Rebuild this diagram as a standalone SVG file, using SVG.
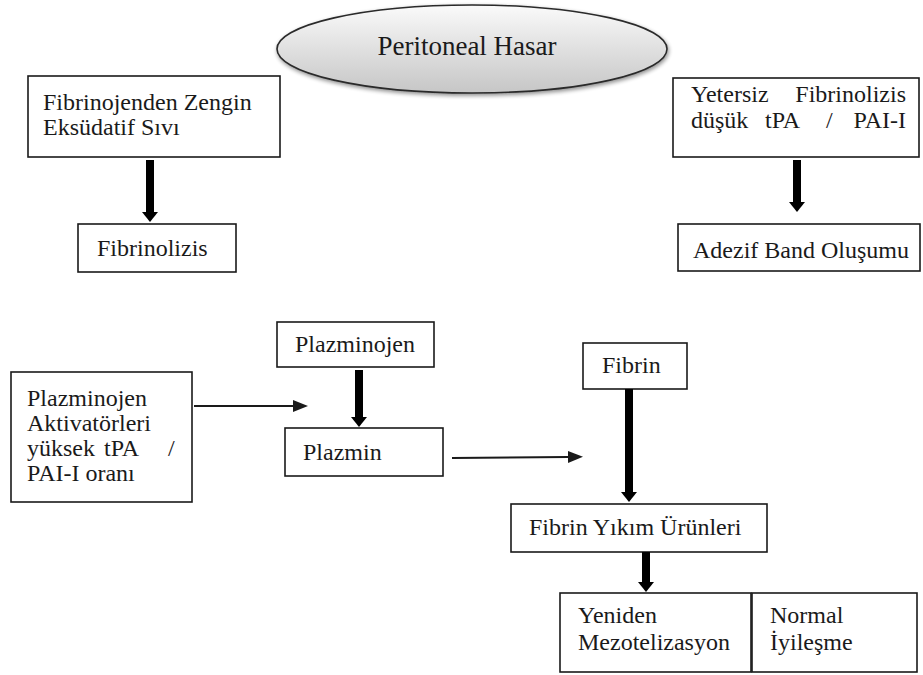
<svg xmlns="http://www.w3.org/2000/svg" width="923" height="675" viewBox="0 0 923 675">
<style>
  .box { fill: #ffffff; stroke: #1a1a1a; stroke-width: 1.6; }
  .t { font-family: "Liberation Serif", "Times New Roman", "DejaVu Serif", serif; font-size: 24px; fill: #1a1a1a; }
  .title { font-family: "Liberation Serif", "Times New Roman", "DejaVu Serif", serif; font-size: 27px; fill: #1a1a1a; }
  .thick { stroke: #000; stroke-width: 8; fill: none; }
  .thin { stroke: #1a1a1a; stroke-width: 1.8; fill: none; }
</style>
<defs>
  <linearGradient id="ellGrad" x1="0" y1="0" x2="0" y2="1">
    <stop offset="0" stop-color="#fafafa"/>
    <stop offset="1" stop-color="#c6c6c6"/>
  </linearGradient>
  <filter id="shadow" x="-10%" y="-20%" width="120%" height="150%">
    <feGaussianBlur in="SourceAlpha" stdDeviation="2"/>
    <feOffset dx="1" dy="2" result="b"/>
    <feComponentTransfer><feFuncA type="linear" slope="0.45"/></feComponentTransfer>
    <feMerge><feMergeNode/><feMergeNode in="SourceGraphic"/></feMerge>
  </filter>
  <marker id="headThick" markerUnits="userSpaceOnUse" viewBox="0 0 10 16" markerWidth="10" markerHeight="16" refX="0" refY="8" orient="auto">
    <path d="M0,0 L10,8 L0,16 z" fill="#000"/>
  </marker>
  <marker id="headThin" markerUnits="userSpaceOnUse" viewBox="0 0 15 12" markerWidth="15" markerHeight="12" refX="0" refY="6" orient="auto">
    <path d="M0,0 L15,6 L0,12 z" fill="#1a1a1a"/>
  </marker>
</defs>
<rect width="923" height="675" fill="#ffffff"/>

<g id="peritoneal-hasar">
  <ellipse cx="472" cy="49" rx="195" ry="44" fill="url(#ellGrad)" stroke="#2a2a2a" stroke-width="1.6" filter="url(#shadow)"/>
  <text class="title" x="467" y="55" text-anchor="middle">Peritoneal Hasar</text>
</g>

<g id="fibrinojenden">
  <rect class="box" x="28" y="76" width="252" height="81"/>
  <text class="t" x="43" y="110">Fibrinojenden Zengin</text>
  <text class="t" x="43" y="135">Eksüdatif Sıvı</text>
</g>

<g id="fibrinolizis">
  <rect class="box" x="78" y="224" width="158" height="48"/>
  <text class="t" x="97" y="256">Fibrinolizis</text>
</g>

<g id="yetersiz">
  <rect class="box" x="673" y="78" width="246" height="79"/>
  <text class="t" y="102"><tspan x="691">Yetersiz</tspan><tspan x="906" text-anchor="end">Fibrinolizis</tspan></text>
  <text class="t" y="128"><tspan x="691">düşük</tspan><tspan x="765">tPA</tspan><tspan x="826">/</tspan><tspan x="906" text-anchor="end">PAI-I</tspan></text>
</g>

<g id="adezif">
  <rect class="box" x="678" y="224" width="242" height="47"/>
  <text class="t" x="693" y="258">Adezif Band Oluşumu</text>
</g>

<g id="aktivatorler">
  <rect class="box" x="11" y="372" width="181" height="130"/>
  <text class="t" x="27" y="406">Plazminojen</text>
  <text class="t" x="27" y="431">Aktivatörleri</text>
  <text class="t" y="456"><tspan x="27">yüksek</tspan><tspan x="104">tPA</tspan><tspan x="168">/</tspan></text>
  <text class="t" x="27" y="481">PAI-I oranı</text>
</g>

<g id="plazminojen">
  <rect class="box" x="277" y="322" width="157" height="45"/>
  <text class="t" x="295" y="352">Plazminojen</text>
</g>

<g id="plazmin">
  <rect class="box" x="285" y="428" width="158" height="48"/>
  <text class="t" x="303" y="460">Plazmin</text>
</g>

<g id="fibrin">
  <rect class="box" x="583" y="343" width="104" height="46"/>
  <text class="t" x="602" y="373">Fibrin</text>
</g>

<g id="fibrin-yikim">
  <rect class="box" x="511" y="504" width="256" height="48"/>
  <text class="t" x="529" y="535">Fibrin Yıkım Ürünleri</text>
</g>

<g id="mezotelizasyon">
  <rect class="box" x="560" y="593" width="191" height="79"/>
  <text class="t" x="578" y="623">Yeniden</text>
  <text class="t" x="578" y="650">Mezotelizasyon</text>
</g>

<g id="normal-iyilesme">
  <rect class="box" x="752" y="593" width="165" height="79"/>
  <text class="t" x="770" y="623">Normal</text>
  <text class="t" x="770" y="650">İyileşme</text>
</g>

<g id="connectors">
  <line class="thick" x1="150" y1="160" x2="150" y2="212" marker-end="url(#headThick)"/>
  <line class="thick" x1="797" y1="160" x2="797" y2="202" marker-end="url(#headThick)"/>
  <line class="thick" x1="359" y1="370" x2="359" y2="417" marker-end="url(#headThick)"/>
  <line class="thick" x1="629" y1="389" x2="629" y2="492" marker-end="url(#headThick)"/>
  <line class="thick" x1="646" y1="552" x2="646" y2="582" marker-end="url(#headThick)"/>
  <line class="thin" x1="194" y1="406" x2="293" y2="406" marker-end="url(#headThin)"/>
  <line class="thin" x1="452" y1="458" x2="568" y2="457" marker-end="url(#headThin)"/>
</g>
</svg>
